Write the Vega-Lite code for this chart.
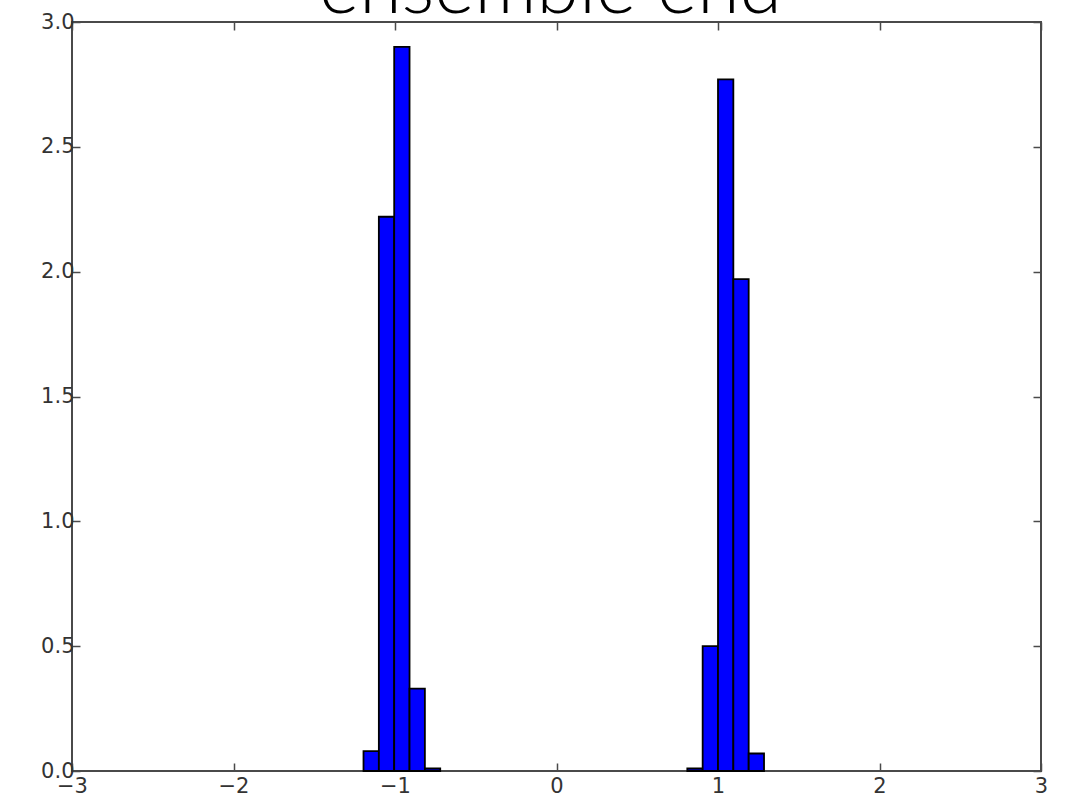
{
  "$schema": "https://vega.github.io/schema/vega-lite/v6.json",
  "autosize": {"type": "none"},
  "width": 969,
  "height": 749,
  "padding": {"left": 72, "top": 22, "right": 24, "bottom": 37},
  "background": "white",
  "title": {
    "text": "ensemble end",
    "font": "Lato",
    "fontWeight": 300,
    "fontSize": 77,
    "color": "#000000",
    "anchor": "middle",
    "baseline": "alphabetic",
    "offset": 0,
    "dx": -6,
    "dy": 79
  },
  "data": {
    "values": [
      {"x0": -1.195, "x1": -1.100, "density": 0.08},
      {"x0": -1.100, "x1": -1.005, "density": 2.22},
      {"x0": -1.005, "x1": -0.910, "density": 2.90},
      {"x0": -0.910, "x1": -0.815, "density": 0.33},
      {"x0": -0.815, "x1": -0.720, "density": 0.01},
      {"x0": 0.810, "x1": 0.905, "density": 0.01},
      {"x0": 0.905, "x1": 1.000, "density": 0.50},
      {"x0": 1.000, "x1": 1.095, "density": 2.77},
      {"x0": 1.095, "x1": 1.190, "density": 1.97},
      {"x0": 1.190, "x1": 1.285, "density": 0.07}
    ]
  },
  "config": {
    "view": {"stroke": "#4a4a4a", "strokeWidth": 2},
    "axis": {
      "grid": false,
      "domain": false,
      "tickColor": "#4a4a4a",
      "tickWidth": 1.5,
      "tickSize": -8,
      "labelFont": "DejaVu Sans",
      "labelFontSize": 21,
      "labelColor": "#333333",
      "title": null
    }
  },
  "layer": [
    {
      "mark": {"type": "bar", "fill": "#0000ff", "stroke": "#000000", "strokeWidth": 1.8},
      "encoding": {
        "x": {
          "field": "x0", "type": "quantitative",
          "scale": {"domain": [-3, 3], "nice": false, "zero": false},
          "axis": {
            "orient": "bottom",
            "values": [-3, -2, -1, 0, 1, 2, 3],
            "format": "d",
            "labelExpr": "replace(datum.label, '-', '−')",
            "labelPadding": 12,
            "labelFlush": false
          }
        },
        "x2": {"field": "x1"},
        "y": {
          "field": "density", "type": "quantitative",
          "scale": {"domain": [0, 3], "nice": false},
          "axis": {
            "orient": "left",
            "values": [0, 0.5, 1, 1.5, 2, 2.5, 3],
            "format": ".1f",
            "labelPadding": 6,
            "labelFlush": false,
            "labelBaseline": "middle"
          }
        },
        "y2": {"datum": 0}
      }
    },
    {
      "mark": {"type": "bar", "opacity": 0},
      "encoding": {
        "x": {
          "field": "x0", "type": "quantitative",
          "axis": {"orient": "top", "values": [-3, -2, -1, 0, 1, 2, 3], "labels": false}
        },
        "x2": {"field": "x1"},
        "y": {
          "field": "density", "type": "quantitative",
          "axis": {"orient": "right", "values": [0, 0.5, 1, 1.5, 2, 2.5, 3], "labels": false}
        },
        "y2": {"datum": 0}
      }
    }
  ],
  "resolve": {"axis": {"x": "independent", "y": "independent"}}
}
